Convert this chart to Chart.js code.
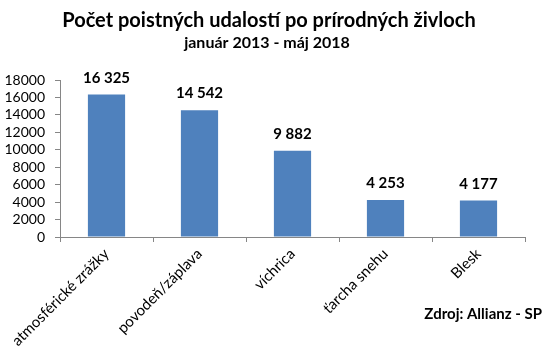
<!DOCTYPE html>
<html>
<head>
<meta charset="utf-8">
<script src="https://cdn.jsdelivr.net/npm/chart.js@4/dist/chart.umd.min.js"></script>
<style>
  body { margin: 0; background: #fff; }
</style>
</head>
<body>
<canvas id="chart-1" width="548" height="354"></canvas>
<script>
var kategorie = ["atmosférické zrážky", "povodeň/záplava", "víchrica", "ťarcha snehu", "Blesk"];
var pocet_udalosti = [16325, 14542, 9882, 4253, 4177];
var y_ticks = [0, 2000, 4000, 6000, 8000, 10000, 12000, 14000, 16000, 18000];
var nadpis = "Počet poistných udalostí po prírodných živloch";
var podnadpis = "január 2013 - máj 2018";
var zdroj = "Zdroj: Allianz - SP";

var FONT = "Lato, 'Open Sans', sans-serif";

// format 16325 -> "16 325"
function medzera(v) {
  return String(v).replace(/\B(?=(\d{3})+(?!\d))/g, " ");
}

var textPlugin = {
  id: "texty",
  afterDraw: function (chart) {
    var ctx = chart.ctx;
    ctx.save();
    ctx.fillStyle = "#000";
    ctx.textAlign = "center";
    ctx.textBaseline = "alphabetic";
    ctx.font = "bold 20px " + FONT;
    ctx.fillText(nadpis, 269, 27);
    ctx.font = "bold 16px " + FONT;
    ctx.fillText(podnadpis, 267, 48);

    // hodnoty nad stlpcami
    var meta = chart.getDatasetMeta(0);
    ctx.font = "bold 15px " + FONT;
    for (let i = 0; i < meta.data.length; i++) {
      var bar = meta.data[i];
      ctx.fillText(medzera(pocet_udalosti[i]), bar.x, bar.y - 12);
    }

    ctx.textAlign = "right";
    ctx.font = "bold 15px " + FONT;
    ctx.fillText(zdroj, 542, 319);
    ctx.restore();
  },
};

const chart1 = document.getElementById("chart-1").getContext("2d");
const myChart1 = new Chart(chart1, {
  type: "bar",
  data: {
    labels: kategorie,
    datasets: [
      {
        label: "Počet",
        data: pocet_udalosti,
        backgroundColor: "#4F81BD",
        borderWidth: 0,
        barPercentage: 0.4,
        categoryPercentage: 1,
      },
    ],
  },
  options: {
    responsive: false,
    animation: false,
    layout: {
      padding: { left: 0, right: 23, top: 80, bottom: 0 },
    },
    plugins: {
      legend: { display: false },
      tooltip: { enabled: false },
    },
    scales: {
      x: {
        grid: {
          display: true,
          drawOnChartArea: false,
          offset: true,
          tickLength: 5,
          color: "#868686",
        },
        border: { color: "#868686" },
        ticks: {
          minRotation: 45,
          maxRotation: 45,
          autoSkip: false,
          padding: 3,
          color: "#000",
          font: { family: FONT, size: 15 },
        },
        afterFit: function (scale) {
          scale.height = 117;
        },
      },
      y: {
        min: 0,
        max: 18000,
        grid: {
          drawOnChartArea: false,
          tickLength: 5,
          color: "#868686",
        },
        border: { color: "#868686" },
        ticks: {
          autoSkip: false,
          padding: 10,
          color: "#000",
          font: { family: FONT, size: 14 },
          callback: function (v) { return String(v); },
        },
        afterBuildTicks: function (scale) {
          scale.ticks = y_ticks.map(function (v) { return { value: v }; });
        },
        afterFit: function (scale) {
          scale.width = 60;
        },
      },
    },
  },
  plugins: [textPlugin],
});
</script>
</body>
</html>
